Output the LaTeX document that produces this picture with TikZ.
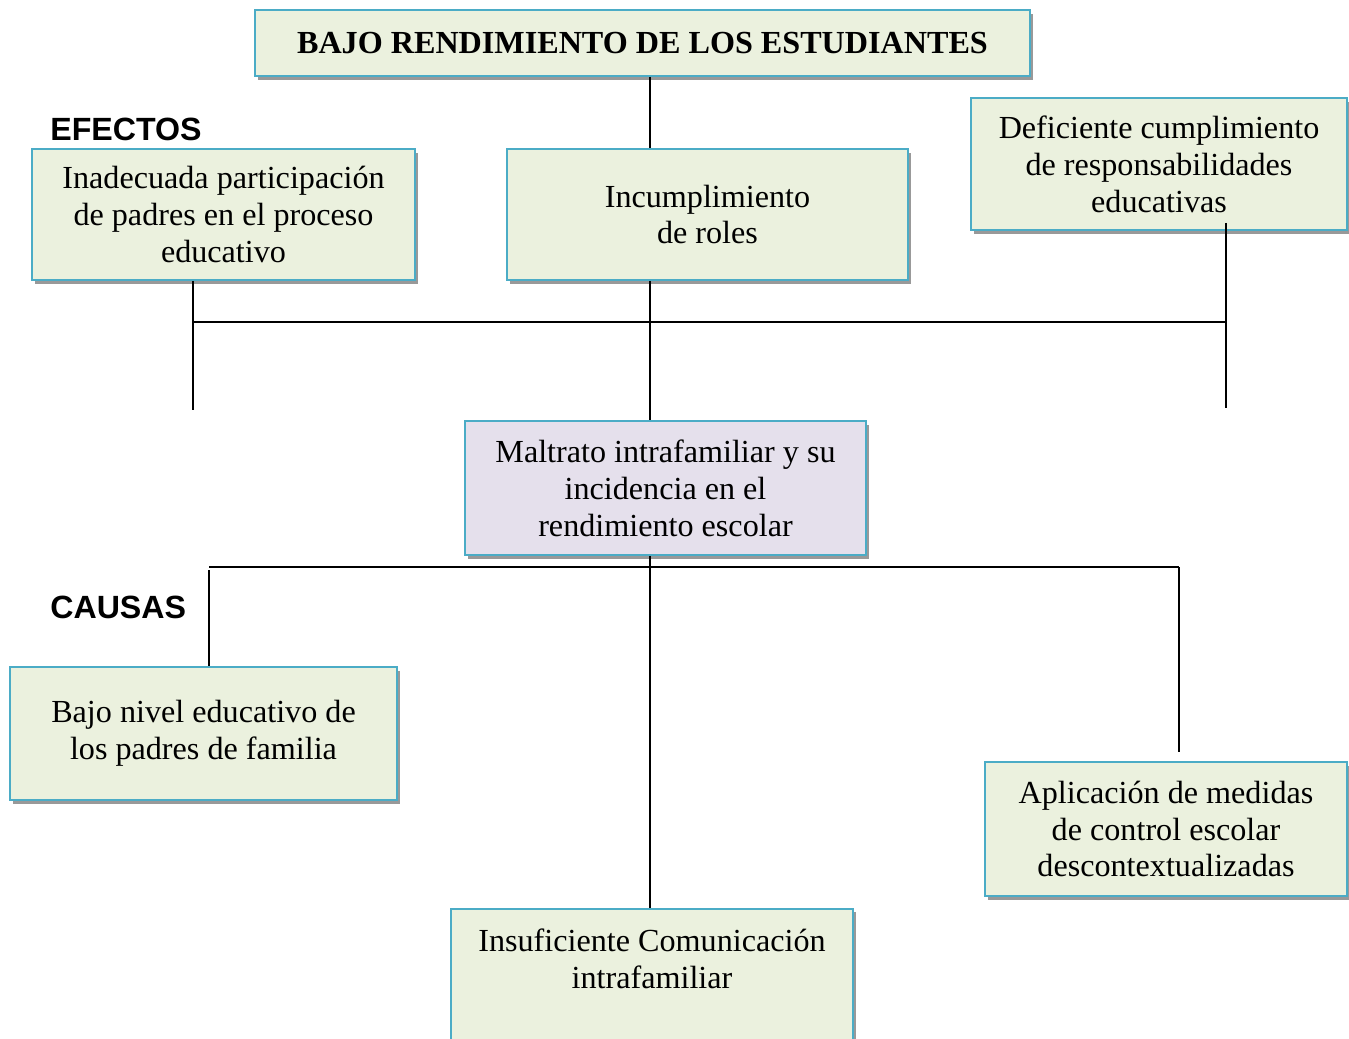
\documentclass[tikz,border=0pt]{standalone}
\usepackage{fontspec}
\setmainfont{Liberation Serif}
\newfontfamily\arialf{Liberation Sans}
\usetikzlibrary{shadows}
\definecolor{boxfill}{HTML}{EBF1DE}
\definecolor{midfill}{HTML}{E5E0EC}
\definecolor{boxline}{HTML}{4BACC6}
\tikzset{box/.style={rectangle, draw=boxline, line width=1pt, fill=boxfill, align=center, inner sep=2pt,
  font=\fontsize{18.3}{21}\selectfont, drop shadow={shadow xshift=1.5pt, shadow yshift=-2pt, fill=gray!80, opacity=1}}}
\tikzset{mid/.style={box, fill=midfill}}
\tikzset{lbl/.style={anchor=west, inner sep=0pt, font=\arialf\bfseries\fontsize{18.3}{21}\selectfont}}
\tikzset{ln/.style={line width=1pt}}
\begin{document}
\begin{tikzpicture}[x=0.02cm, y=-0.02cm]
      \useasboundingbox (0,0) rectangle (1349,1038);
      \node[box, font=\bfseries\fontsize{18.3}{21}\selectfont, minimum width=15.5cm, minimum height=1.32cm] (title) at (642.5,43) {BAJO RENDIMIENTO DE LOS ESTUDIANTES};
      \node[lbl] (efectos) at (50,129) {EFECTOS};
      \node[box, minimum width=7.66cm, minimum height=2.62cm] (A) at (223.5,214.5) {Inadecuada participación\\de padres en el proceso\\educativo};
      \node[box, minimum width=8.02cm, minimum height=2.62cm] (B) at (707.5,214.5) {Incumplimiento\\de roles};
      \node[box, minimum width=7.52cm, minimum height=2.64cm] (C) at (1159,164) {Deficiente cumplimiento\\de responsabilidades\\educativas};
      \node[mid, minimum width=8.02cm, minimum height=2.68cm] (M) at (665.5,488) {Maltrato intrafamiliar y su\\incidencia en el\\rendimiento escolar};
      \node[lbl] (causas) at (50,607) {CAUSAS};
      \node[box, minimum width=7.74cm, minimum height=2.66cm] (D) at (203.5,733.5) {Bajo nivel educativo de\\los padres de familia};
      \node[box, minimum width=7.24cm, minimum height=2.68cm] (E) at (1166,829) {Aplicación de medidas\\de control escolar\\descontextualizadas};
      \node[box, anchor=north, minimum width=8.04cm, inner ysep=0.4cm, text depth=3cm] (F) at (652,908) {Insuficiente Comunicación\\intrafamiliar};
      % connectors
      \coordinate (spine) at (650,0);
      \coordinate (ebus) at (0,322);
      \coordinate (cbus) at (0,567);
      \coordinate (eL) at (193,410);
      \coordinate (eR) at (1226,408);
      \coordinate (cL) at (209,570);
      \coordinate (cR) at (1179,752);
      \draw[ln] (title.south -| spine) -- (B.north -| spine);
      \draw[ln] (B.south -| spine) -- (M.north -| spine);
      \draw[ln] (A.south -| eL) -- (eL);
      \draw[ln] ([yshift=0.16cm]C.south -| eR) -- (eR);
      \draw[ln] (eL |- ebus) -- (eR |- ebus);
      \draw[ln] (M.south -| spine) -- (F.north -| spine);
      \draw[ln] (cL |- cbus) -- (cR |- cbus);
      \draw[ln] (cL) -- (D.north -| cL);
      \draw[ln] (cR |- cbus) -- (cR);
    \end{tikzpicture}
\end{document}
